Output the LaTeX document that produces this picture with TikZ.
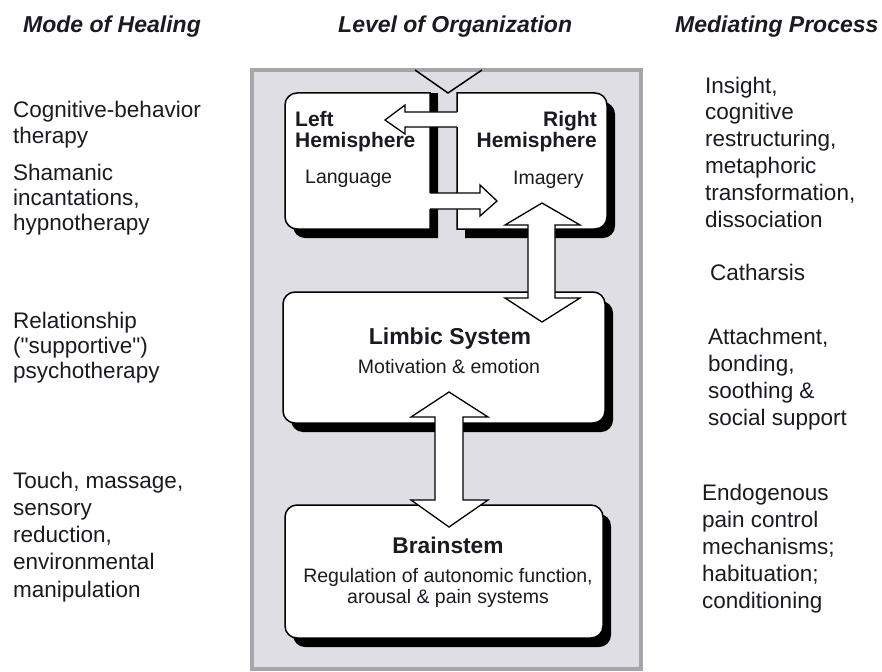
\documentclass[tikz,border=0pt]{standalone}
\usepackage{fontspec}
\setmainfont{Liberation Sans}[Ligatures=TeXOff]
\usetikzlibrary{shadows}
\definecolor{panelfill}{HTML}{DEDEE4}
\definecolor{panelline}{HTML}{A6A6AA}
\definecolor{ink}{HTML}{1A1A22}
\begin{document}
\begin{tikzpicture}[x=1pt,y=1pt,
  txt/.style={inner sep=0pt, text=ink, align=left, anchor=base west},
  colA/.style={txt, font=\fontsize{22.5}{25}\selectfont},
  colB/.style={txt, font=\fontsize{22.5}{26.8}\selectfont},
  hdr/.style={inner sep=0pt, text=ink, anchor=base west, font=\fontsize{23}{27}\selectfont\bfseries\itshape},
  boxtitle/.style={inner sep=0pt, text=ink, font=\fontsize{21}{21}\selectfont\bfseries},
  boxtext/.style={inner sep=0pt, text=ink, font=\fontsize{19.5}{21}\selectfont},
  brainbox/.style={draw=black, line width=1.5pt, fill=white, rounded corners=12pt,
    drop shadow={shadow xshift=8pt, shadow yshift=-9pt, fill=black, opacity=1}},
  fatarrow/.style={draw=black, line width=1.3pt, fill=white, line join=miter},
  arrowline/.style={draw=black, line width=1.3pt, line join=miter},
]
\useasboundingbox (0,0) rectangle (882,-671);

% headers
\node[hdr] (h1) at (23,-33) {Mode of Healing};
\node[hdr] (h2) at (338,-33) {Level of Organization};
\node[hdr] (h3) at (675,-33) {Mediating Process};

% panel
\draw[fill=panelfill, draw=panelline, line width=4pt] (252,-70) rectangle (641,-669);

% top V
\draw[line width=1.5pt, line join=miter] (415,-70) -- (448,-93) -- (482,-70);

% hemisphere shadows
\begin{scope}[shift={(8,-9)}]
\fill[black] (430,-93) -- (297,-93) arc[start angle=90,end angle=180,radius=12pt] -- (285,-217) arc[start angle=180,end angle=270,radius=12pt] -- (430,-229) -- cycle;
\fill[black] (457,-93) -- (595,-93) arc[start angle=90,end angle=0,radius=12pt] -- (607,-217) arc[start angle=0,end angle=-90,radius=12pt] -- (457,-229) -- cycle;
\end{scope}
\fill[black] (430,-93) rectangle (438,-110);
% hemisphere boxes
\draw[fill=white, line width=1.5pt] (430,-93) -- (297,-93) arc[start angle=90,end angle=180,radius=12pt] -- (285,-217) arc[start angle=180,end angle=270,radius=12pt] -- (430,-229) -- cycle;
\draw[fill=white, line width=1.5pt] (457,-93) -- (595,-93) arc[start angle=90,end angle=0,radius=12pt] -- (607,-217) arc[start angle=0,end angle=-90,radius=12pt] -- (457,-229) -- cycle;

% limbic and brainstem boxes
\node[brainbox, minimum width=322pt, minimum height=131pt] (limbic) at (444,-357.5) {};
\node[brainbox, minimum width=318pt, minimum height=133pt] (brainstem) at (444,-571.5) {};

% horizontal arrows between hemispheres
\fill[white] (458.5,-112) -- (405,-112) -- (405,-105) -- (385,-120) -- (405,-134) -- (405,-127) -- (458.5,-127) -- cycle;
\draw[arrowline] (457,-112) -- (405,-112) -- (405,-105) -- (385,-120) -- (405,-134) -- (405,-127) -- (457,-127);
\fill[white] (428.5,-193) -- (480,-193) -- (480,-185) -- (497,-201) -- (480,-216) -- (480,-209) -- (428.5,-209) -- cycle;
\draw[arrowline] (430,-193) -- (480,-193) -- (480,-185) -- (497,-201) -- (480,-216) -- (480,-209) -- (430,-209);

% vertical double arrows
\draw[fatarrow] (542,-203) -- (580,-225) -- (555,-225) -- (555,-298) -- (580,-298) -- (542,-322) -- (505,-298) -- (528,-298) -- (528,-225) -- (505,-225) -- cycle;
\draw[fatarrow] (449,-392) -- (488,-417) -- (463,-417) -- (463,-500) -- (488,-500) -- (449,-527) -- (411,-500) -- (435,-500) -- (435,-417) -- (411,-417) -- cycle;

% hemisphere texts (base = last line)
\node[boxtitle, anchor=base west, align=left] (lefth) at (295,-148) {Left\\Hemisphere};
\node[boxtitle, anchor=base east, align=right] (righth) at (597,-148) {Right\\Hemisphere};
\node[boxtext, anchor=base west] (lang) at (305,-183) {Language};
\node[boxtext, anchor=base west] (imag) at (513,-184) {Imagery};

% limbic texts
\node[inner sep=0pt, text=ink, font=\fontsize{23}{23}\selectfont\bfseries, anchor=base] (limt) at (450,-344) {Limbic System};
\node[boxtext, anchor=base] (lims) at (449,-373) {Motivation \& emotion};

% brainstem texts
\node[inner sep=0pt, text=ink, font=\fontsize{22.7}{23}\selectfont\bfseries, anchor=base] (bst) at (448,-553) {Brainstem};
\node[boxtext, anchor=base, align=center] (bss) at (448,-603) {Regulation of autonomic function,\\arousal \& pain systems};

% left column (base = last line)
\node[colA] (m1) at (13,-143) {Cognitive-behavior\\therapy};
\node[colA] (m2) at (13,-230) {Shamanic\\incantations,\\hypnotherapy};
\node[colA] (m3) at (13,-378) {Relationship\\("supportive")\\psychotherapy};
\node[txt, font=\fontsize{22.5}{27.2}\selectfont] (m4) at (13,-597) {Touch, massage,\\sensory\\reduction,\\environmental\\manipulation};

% right column (base = last line)
\node[colB] (p1) at (705,-227) {Insight,\\cognitive\\restructuring,\\metaphoric\\transformation,\\dissociation};
\node[colB] (p2) at (710,-280) {Catharsis};
\node[colB] (p3) at (708,-425) {Attachment,\\bonding,\\soothing \&\\social support};
\node[txt, font=\fontsize{22.5}{27}\selectfont] (p4) at (702,-608) {Endogenous\\pain control\\mechanisms;\\habituation;\\conditioning};
\end{tikzpicture}
\end{document}
